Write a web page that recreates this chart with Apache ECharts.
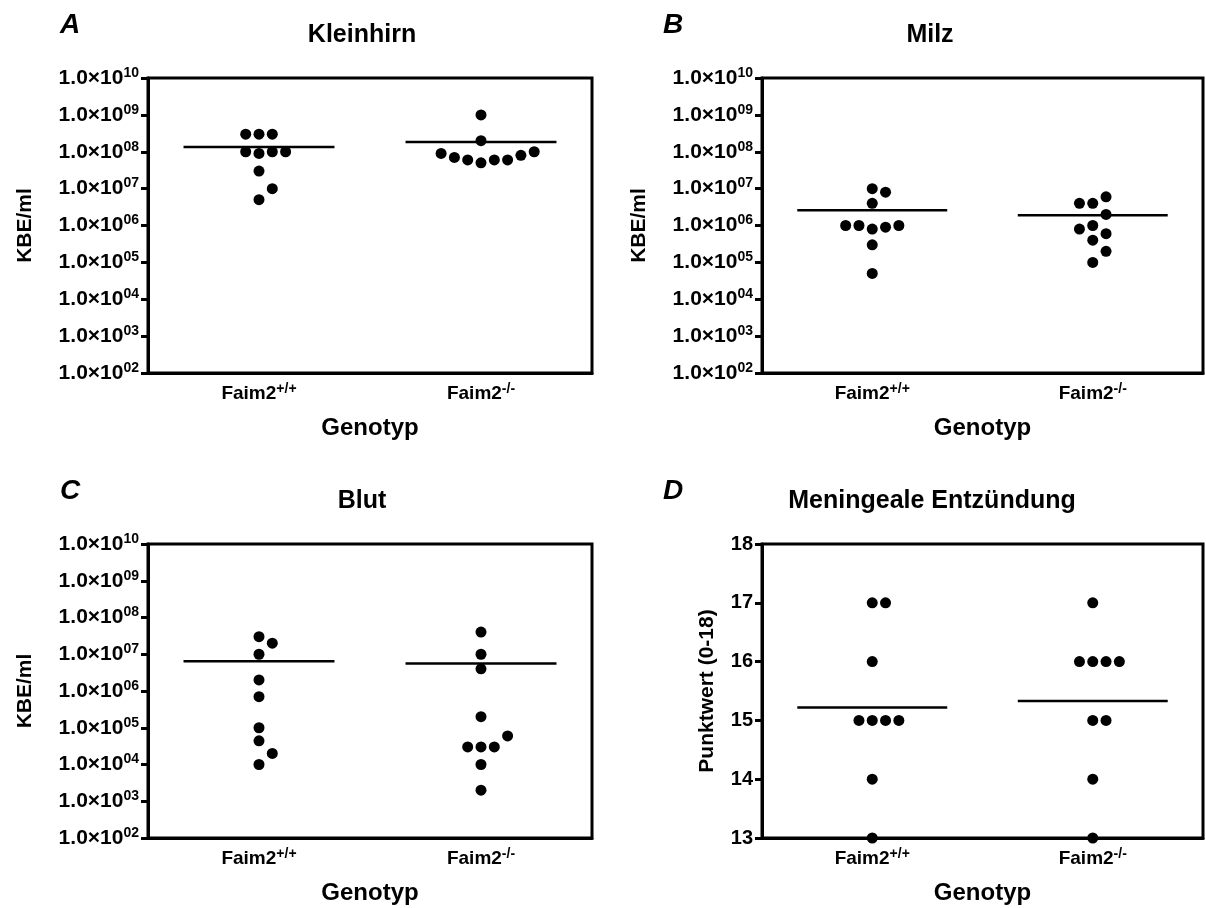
<!DOCTYPE html>
<html>
<head>
<meta charset="utf-8">
<title>Faim2 - KBE und Meningitis-Score</title>
<script src="https://cdn.jsdelivr.net/npm/echarts@6/dist/echarts.min.js"></script>
</head>
<body style="margin:0;background:#fff">
<div id="main" style="width:1206px;height:908px;"></div>
<script>
// categories
var genotypes = ['Faim2+/+', 'Faim2-/-'];
var logTicks = [1e2, 1e10];
var scoreTicks = [13, 18];

// A: Kleinhirn (KBE/ml)
var kleinhirnWT = [3e8, 3e8, 3e8, 1e8, 9e7, 1e8, 1e8, 3e7, 1e7, 5e6];
var kleinhirnKO = [1e9, 2e8, 9e7, 7e7, 6e7, 5e7, 6e7, 6e7, 8e7, 1e8];
var kleinhirnMean = [1.34e8, 1.85e8];

// B: Milz (KBE/ml)
var milzWT = [1e7, 8e6, 4e6, 1e6, 1e6, 8e5, 9e5, 1e6, 3e5, 5e4];
var milzKO = [6e6, 4e6, 4e6, 2e6, 1e6, 8e5, 6e5, 4e5, 2e5, 1e5];
var milzMean = [2.6e6, 1.9e6];

// C: Blut (KBE/ml)
var blutWT = [3e7, 2e7, 1e7, 2e6, 7e5, 1e5, 4.4e4, 2e4, 1e4];
var blutKO = [4e7, 1e7, 4e6, 2e5, 6e4, 3e4, 3e4, 3e4, 1e4, 2e3];
var blutMean = [6.4e6, 5.6e6];

// D: Meningeale Entzuendung (Punktwert 0-18)
var scoreWT = [17, 17, 16, 15, 15, 15, 15, 14, 13];
var scoreKO = [17, 16, 16, 16, 16, 15, 15, 14, 13];
var scoreMean = [15.22, 15.33];

var FONT = '"Liberation Sans", Arial, sans-serif';

var panels = [
    { letter: 'A', title: 'Kleinhirn', yName: 'KBE/ml', log: true, groups: [kleinhirnWT, kleinhirnKO], means: kleinhirnMean,
      grid: { left: 148, top: 78, right: 614, bottom: 535 }, titleX: 362, titleY: 35, letterX: 60, letterY: 25 },
    { letter: 'B', title: 'Milz', yName: 'KBE/ml', log: true, groups: [milzWT, milzKO], means: milzMean,
      grid: { left: 762, top: 78, right: 3, bottom: 535 }, titleX: 930, titleY: 35, letterX: 663, letterY: 25 },
    { letter: 'C', title: 'Blut', yName: 'KBE/ml', log: true, groups: [blutWT, blutKO], means: blutMean,
      grid: { left: 148, top: 544, right: 614, bottom: 70 }, titleX: 362, titleY: 501, letterX: 60, letterY: 491 },
    { letter: 'D', title: 'Meningeale Entzündung', yName: 'Punktwert (0-18)', log: false, groups: [scoreWT, scoreKO], means: scoreMean,
      grid: { left: 762, top: 544, right: 3, bottom: 70 }, titleX: 932, titleY: 501, letterX: 663, letterY: 491 }
];

var myChart = echarts.init(document.getElementById('main'));

var grids = [], xAxes = [], yAxes = [], series = [], graphics = [];

panels.forEach(function (p, i) {
    grids.push({
        left: p.grid.left, top: p.grid.top, right: p.grid.right, bottom: p.grid.bottom,
        outerBoundsMode: 'none', containLabel: false,
        show: true, borderColor: '#000', borderWidth: 3, backgroundColor: 'transparent'
    });
    // visible category axis
    xAxes.push({
        type: 'category', gridIndex: i, data: genotypes,
        name: 'Genotyp', nameLocation: 'middle', nameGap: 43,
        nameTextStyle: { fontFamily: FONT, fontWeight: 'bold', fontSize: 24, color: '#000' },
        axisLine: { onZero: false, lineStyle: { color: '#000', width: 3 } },
        axisTick: { alignWithLabel: true, length: 7, lineStyle: { color: '#000', width: 3 } },
        axisLabel: {
            margin: 9,
            formatter: function (v) { return '{b|' + v.slice(0, 5) + '}{s|' + v.slice(5) + '}'; },
            rich: {
                b: { fontFamily: FONT, fontWeight: 'bold', fontSize: 19, color: '#000' },
                s: { fontFamily: FONT, fontWeight: 'bold', fontSize: 14, color: '#000', padding: [0, 0, 10, 0] }
            }
        },
        splitLine: { show: false }
    });
    // hidden value axis used to place dots and mean lines
    xAxes.push({ type: 'value', gridIndex: i, min: -0.5, max: 1.5, show: false });

    var y = {
        gridIndex: i,
        name: p.yName, nameLocation: 'middle',
        nameTextStyle: { fontFamily: FONT, fontWeight: 'bold', fontSize: 21, color: '#000' },
        axisLine: { show: true, onZero: false, lineStyle: { color: '#000', width: 3 } },
        axisTick: { show: true, length: 7, lineStyle: { color: '#000', width: 3 } },
        splitLine: { show: false }
    };
    if (p.log) {
        y.type = 'log';
        y.logBase = 10;
        y.min = logTicks[0];
        y.max = logTicks[1];
        y.splitNumber = 8;
        y.nameGap = 112;
        y.axisLabel = {
            margin: 9,
            formatter: function (v) {
                var e = Math.round(Math.log10(v));
                return '{b|1.0×10}{s|' + (e < 10 ? '0' : '') + e + '}';
            },
            rich: {
                b: { fontFamily: FONT, fontWeight: 'bold', fontSize: 21, color: '#000' },
                s: { fontFamily: FONT, fontWeight: 'bold', fontSize: 14, color: '#000', padding: [0, 0, 10, 0] }
            }
        };
    } else {
        y.type = 'value';
        y.min = scoreTicks[0];
        y.max = scoreTicks[1];
        y.interval = 1;
        y.nameGap = 44;
        y.axisLabel = { margin: 9, fontFamily: FONT, fontWeight: 'bold', fontSize: 20, color: '#000' };
    }
    yAxes.push(y);

    // mean lines
    series.push({
        type: 'custom', xAxisIndex: 2 * i + 1, yAxisIndex: i, z: 3, clip: false,
        data: p.means.map(function (m, g) { return [g, m]; }),
        renderItem: function (params, api) {
            var a = api.coord([api.value(0) - 0.34, api.value(1)]);
            var b = api.coord([api.value(0) + 0.34, api.value(1)]);
            return { type: 'line', shape: { x1: a[0], y1: a[1], x2: b[0], y2: b[1] },
                     style: { stroke: '#000', lineWidth: 2.5 } };
        }
    });
    // dots (x spread filled in after the axes exist)
    series.push({
        type: 'scatter', xAxisIndex: 2 * i + 1, yAxisIndex: i, z: 4, clip: false,
        symbol: 'circle', symbolSize: 11, itemStyle: { color: '#000', opacity: 1 },
        data: []
    });

    graphics.push({ type: 'text', x: p.titleX, y: p.titleY,
        style: { text: p.title, fontFamily: FONT, fontWeight: 'bold', fontSize: 25, fill: '#000', align: 'center', verticalAlign: 'middle' } });
    graphics.push({ type: 'text', x: p.letterX, y: p.letterY,
        style: { text: p.letter, fontFamily: FONT, fontWeight: 'bold', fontStyle: 'italic', fontSize: 28, fill: '#000', align: 'left', verticalAlign: 'middle' } });
});

myChart.setOption({
    backgroundColor: '#fff',
    animation: false,
    grid: grids,
    xAxis: xAxes,
    yAxis: yAxes,
    series: series,
    graphic: graphics
});

// scatter dot plot layout: points that overlap a neighbour in the same column move sideways
var slotPx = 13.3, hitPx = 13;
var dotSeries = [];
panels.forEach(function (p, i) {
    var unit = myChart.convertToPixel({ xAxisIndex: 2 * i + 1 }, 1) - myChart.convertToPixel({ xAxisIndex: 2 * i + 1 }, 0);
    var pts = [];
    p.groups.forEach(function (vals, g) {
        var items = vals.map(function (v) {
            return { v: v, py: myChart.convertToPixel({ yAxisIndex: i }, v) };
        }).sort(function (a, b) { return a.v - b.v; });
        var placed = [];
        items.forEach(function (it) {
            var order = [0], k;
            for (k = 1; k < 12; k++) { order.push(k, -k); }
            for (k = 0; k < order.length; k++) {
                var s = order[k];
                var hit = placed.some(function (q) { return q.slot === s && Math.abs(q.py - it.py) < hitPx; });
                if (!hit) { placed.push({ slot: s, py: it.py }); it.slot = s; break; }
            }
            pts.push([g + it.slot * slotPx / unit, it.v]);
        });
    });
    dotSeries.push({}, { data: pts });
});
myChart.setOption({ series: dotSeries });
</script>
</body>
</html>
